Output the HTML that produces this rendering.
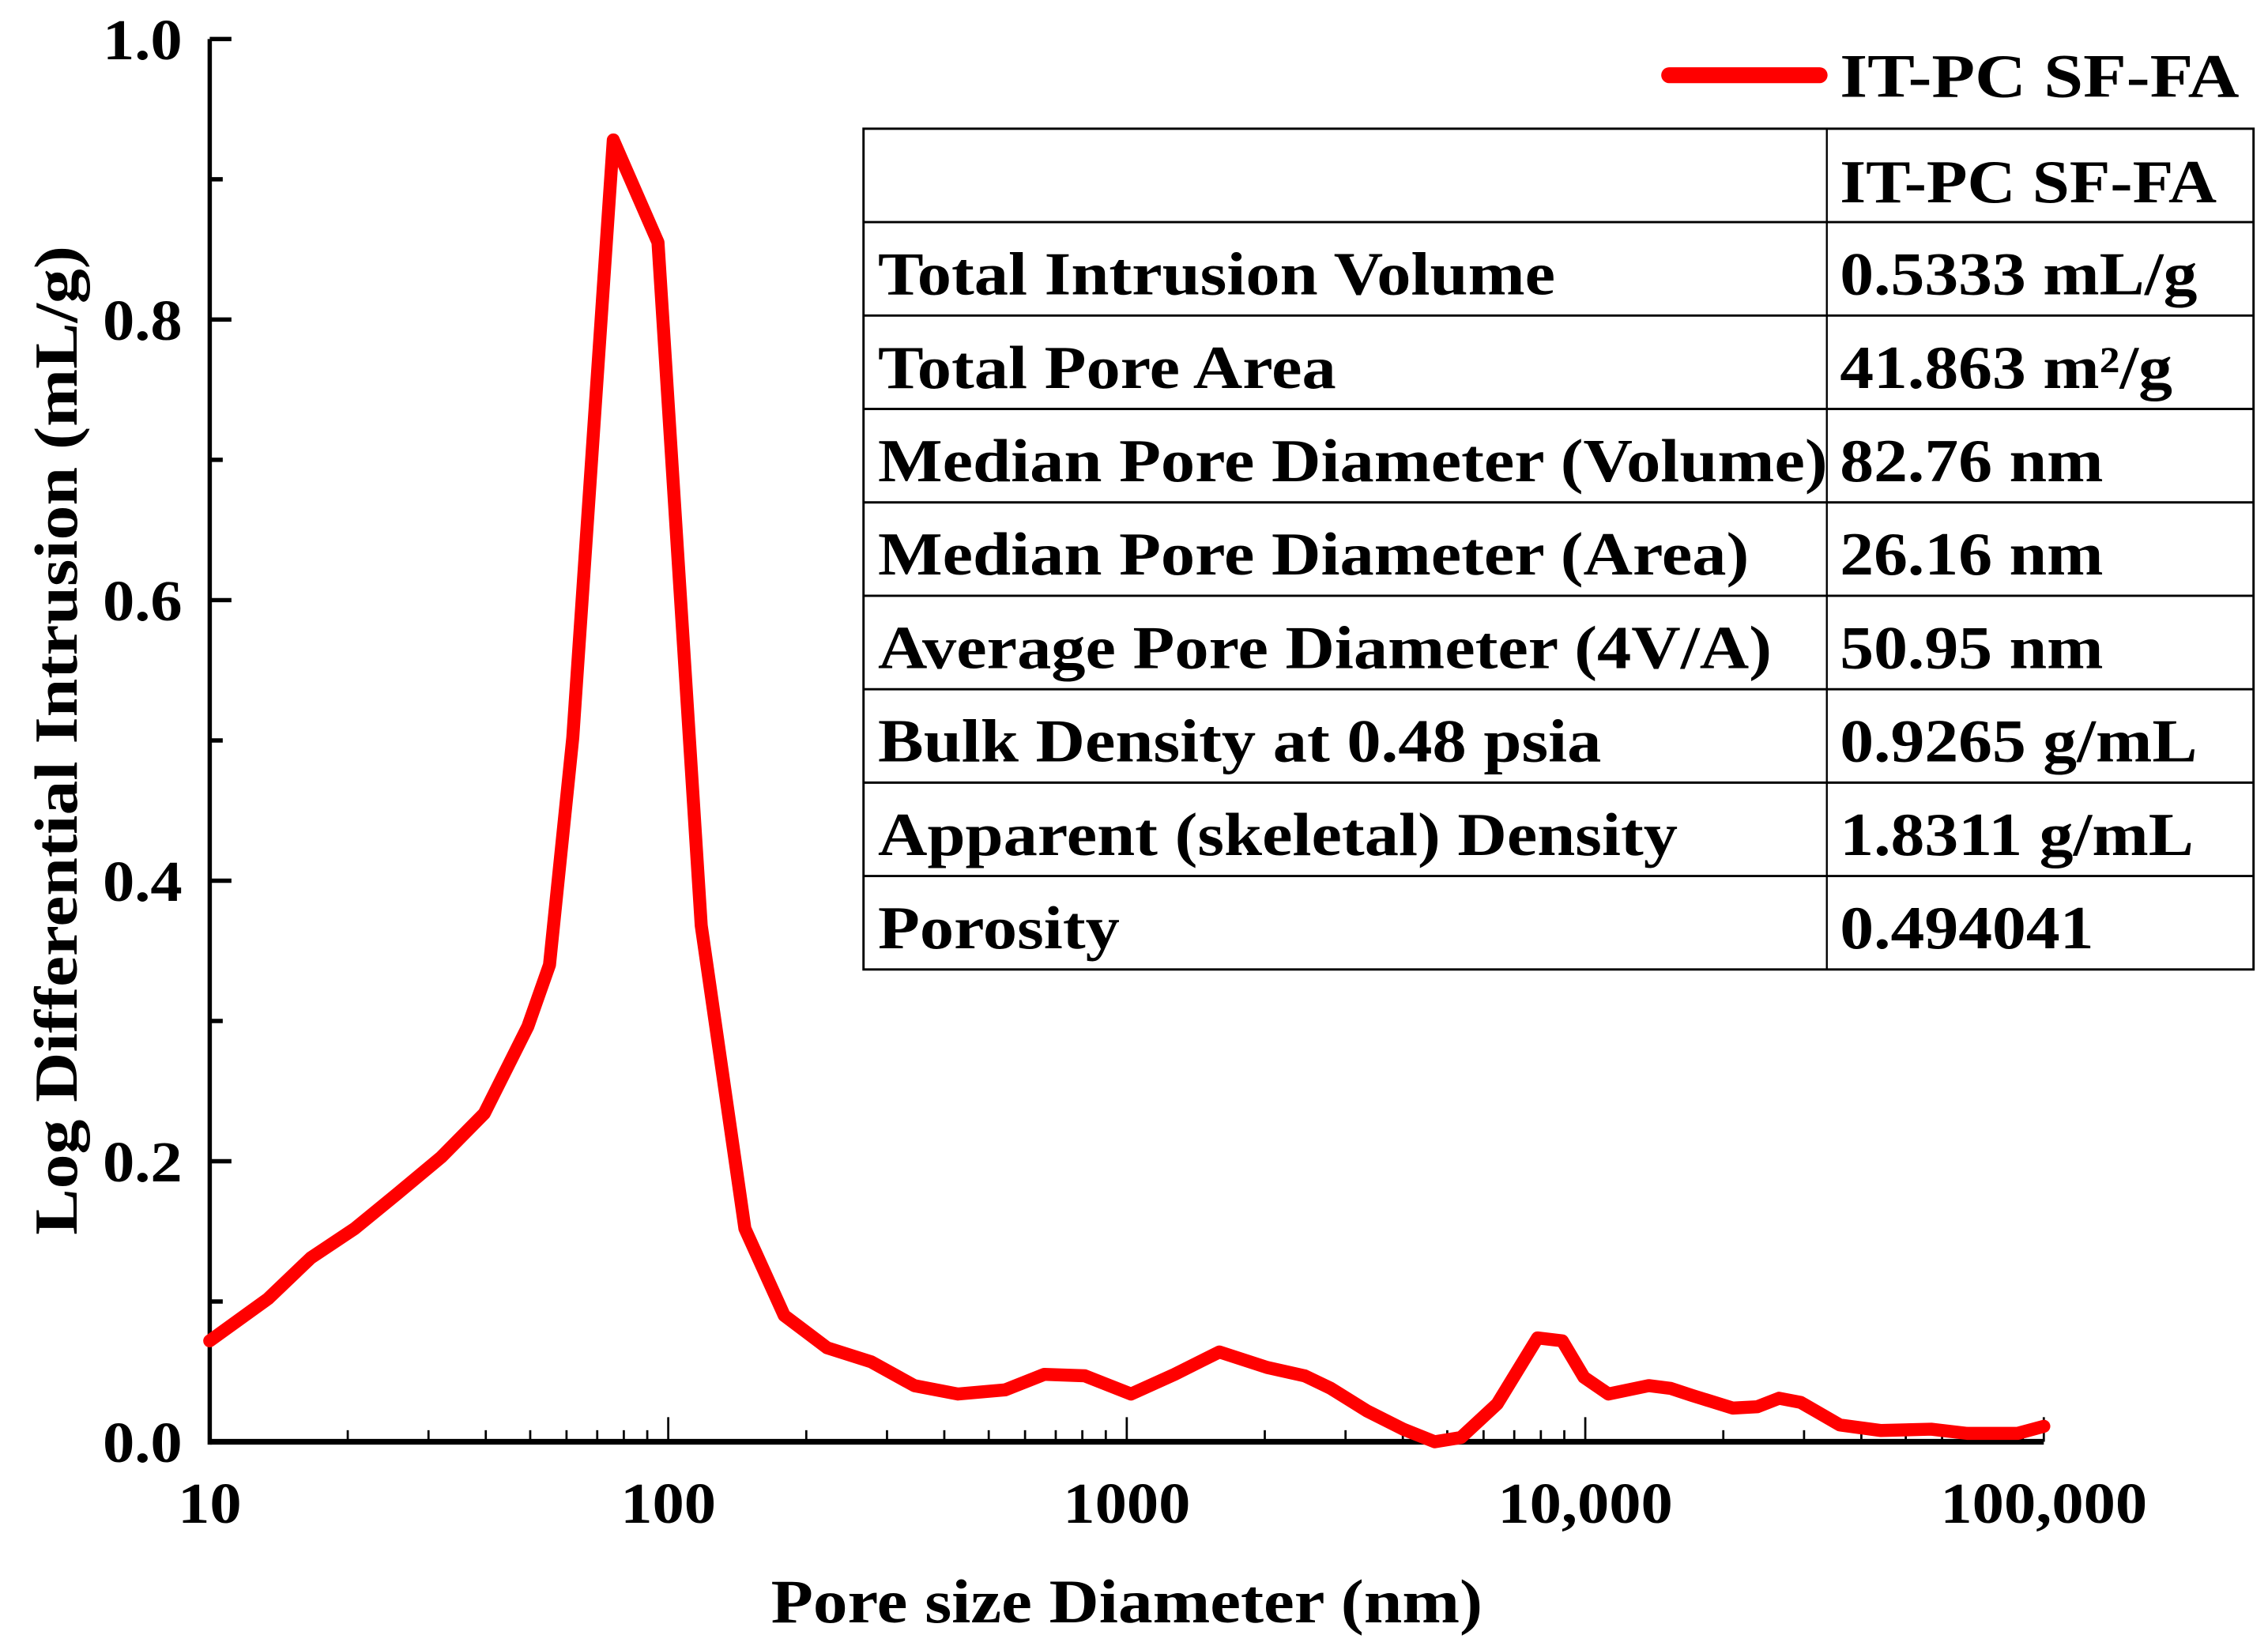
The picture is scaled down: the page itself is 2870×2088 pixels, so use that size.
<!DOCTYPE html>
<html><head><meta charset="utf-8"><style>
html,body{margin:0;padding:0;background:#fff;}
svg{display:block;font-family:"Liberation Serif",serif;font-weight:bold;}
</style></head><body>
<svg id="chart" width="2870" height="2088" viewBox="0 0 1568 1141" preserveAspectRatio="none" xmlns="http://www.w3.org/2000/svg">
<g id="axes"></g>
<g id="plot"></g>
<g>
<line x1="1154" y1="52" x2="1258" y2="52" stroke="#ff0000" stroke-width="11" stroke-linecap="round"/>
<text x="1272" y="67" font-size="43" textLength="276" lengthAdjust="spacingAndGlyphs">IT-PC SF-FA</text>
</g>
<g id="table"></g>
<text x="779" y="1122" font-size="43" text-anchor="middle" textLength="492" lengthAdjust="spacingAndGlyphs">Pore size Diameter (nm)</text>
<text transform="translate(53,512) rotate(-90)" font-size="42" text-anchor="middle" textLength="684" lengthAdjust="spacingAndGlyphs">Log Differential Intrusion (mL/g)</text>
</svg>
<script>
const diameters=[10,13.4,16.6,20.7,25.7,32,39.7,49.4,55.1,61.9,75.9,95,118,147,179,222,277,344,428,543,661,810,1021,1271,1592,2023,2444,2786,3342,4006,4696,5355,6425,7871,8907,9934,11230,13760,15350,17110,20980,23710,26470,29510,35920,44030,56800,68040,87710,100000];
const intrusion=[0.072,0.102,0.131,0.152,0.177,0.203,0.234,0.296,0.340,0.502,0.928,0.855,0.368,0.152,0.090,0.067,0.057,0.040,0.034,0.037,0.048,0.047,0.034,0.048,0.064,0.053,0.047,0.038,0.022,0.009,0.0,0.003,0.027,0.074,0.072,0.046,0.034,0.040,0.038,0.033,0.024,0.025,0.031,0.028,0.012,0.008,0.009,0.006,0.006,0.011];
const xTickValues=[10,100,1000,10000,100000];
const xTickLabels=["10","100","1000","10,000","100,000"];
const yTickValues=[0,0.2,0.4,0.6,0.8,1.0];
const yTickLabels=["0.0","0.2","0.4","0.6","0.8","1.0"];
const tableLabels=["Total Intrusion Volume","Total Pore Area","Median Pore Diameter (Volume)","Median Pore Diameter (Area)","Average Pore Diameter (4V/A)","Bulk Density at 0.48 psia","Apparent (skeletal) Density","Porosity"];
const tableValues=["0.5333 mL/g","41.863 m²/g","82.76 nm","26.16 nm","50.95 nm","0.9265 g/mL","1.8311 g/mL","0.494041"];

const NS="http://www.w3.org/2000/svg";
const X0=145,X1=1413,Y0=997,Y1=27;
function xs(v){return X0+(Math.log10(v)-1)/4*(X1-X0);}
function ys(v){return Y0-v*(Y0-Y1);}
function mk(tag,attrs,parent){const e=document.createElementNS(NS,tag);for(const k in attrs)e.setAttribute(k,attrs[k]);parent.appendChild(e);return e;}
function widen(t,f){const w=t.getComputedTextLength();if(w>0){t.setAttribute('textLength',(w*f).toFixed(1));t.setAttribute('lengthAdjust','spacingAndGlyphs');}}
const axes=document.getElementById('axes'),plot=document.getElementById('plot'),tbl=document.getElementById('table');

let e=mk('line',{x1:X0,y1:Y0,x2:X1,y2:Y0,stroke:'#000','stroke-width':4},axes);


e=mk('line',{x1:X0,y1:Y0+2,x2:X0,y2:Y1,stroke:'#000','stroke-width':3},axes);



for(let d=1;d<=4;d++){
  for(let m=2;m<=9;m++){
    const x=xs(Math.pow(10,d)*m);
    e=mk('line',{x1:x,y1:Y0,x2:x,y2:Y0-8,stroke:'#000','stroke-width':1.5},axes);
    
    
  }
}
xTickValues.forEach((v,i)=>{
  const x=xs(v);
  e=mk('line',{x1:x,y1:Y0,x2:x,y2:Y0-17,stroke:'#000','stroke-width':1.5},axes);
  
  
  e=mk('text',{x:x,y:1053,'font-size':40,'text-anchor':'middle'},axes);
  e.textContent=xTickLabels[i];
  
  
  widen(e,1.1);
});
for(let k=0;k<5;k++){
  const y=ys(0.1+0.2*k);
  e=mk('line',{x1:X0,y1:y,x2:X0+9,y2:y,stroke:'#000','stroke-width':3},axes);
  
  
}
yTickValues.forEach((v,i)=>{
  const y=ys(v);
  e=mk('line',{x1:X0,y1:y,x2:X0+15,y2:y,stroke:'#000','stroke-width':3},axes);
  
  
  e=mk('text',{x:126,y:y+14,'font-size':40,'text-anchor':'end'},axes);
  e.textContent=yTickLabels[i];
  
  
  widen(e,1.1);
});

const pts=diameters.map((d,i)=>xs(d).toFixed(1)+','+ys(intrusion[i]).toFixed(1)).join(' ');
e=mk('polyline',{points:pts,fill:'none',stroke:'#ff0000','stroke-width':9,'stroke-linejoin':'round','stroke-linecap':'round'},plot);



const TL=597,TR=1558,TC=1263,TT=89,RH=64.6;
const rows=tableLabels.length+1;
e=mk('rect',{x:TL,y:TT,width:TR-TL,height:RH*rows,fill:'#fff',stroke:'#000','stroke-width':1.6},tbl);


e=mk('line',{x1:TC,y1:TT,x2:TC,y2:TT+RH*rows,stroke:'#000','stroke-width':1.3},tbl);


for(let r=1;r<rows;r++){
  e=mk('line',{x1:TL,y1:TT+RH*r,x2:TR,y2:TT+RH*r,stroke:'#000','stroke-width':1.6},tbl);
  
  
}
e=mk('text',{x:1272,y:TT+51,'font-size':42},tbl);
e.textContent='IT-PC SF-FA';


widen(e,1.1);
tableLabels.forEach((lab,i)=>{
  const by=TT+RH*(i+1)+50;
  e=mk('text',{x:607,y:by,'font-size':42},tbl);
  e.textContent=lab;
  
  
  widen(e,1.125);
  e=mk('text',{x:1272,y:by,'font-size':42},tbl);
  e.textContent=tableValues[i];
  
  
  widen(e,1.115);
});
</script>
</body></html>
